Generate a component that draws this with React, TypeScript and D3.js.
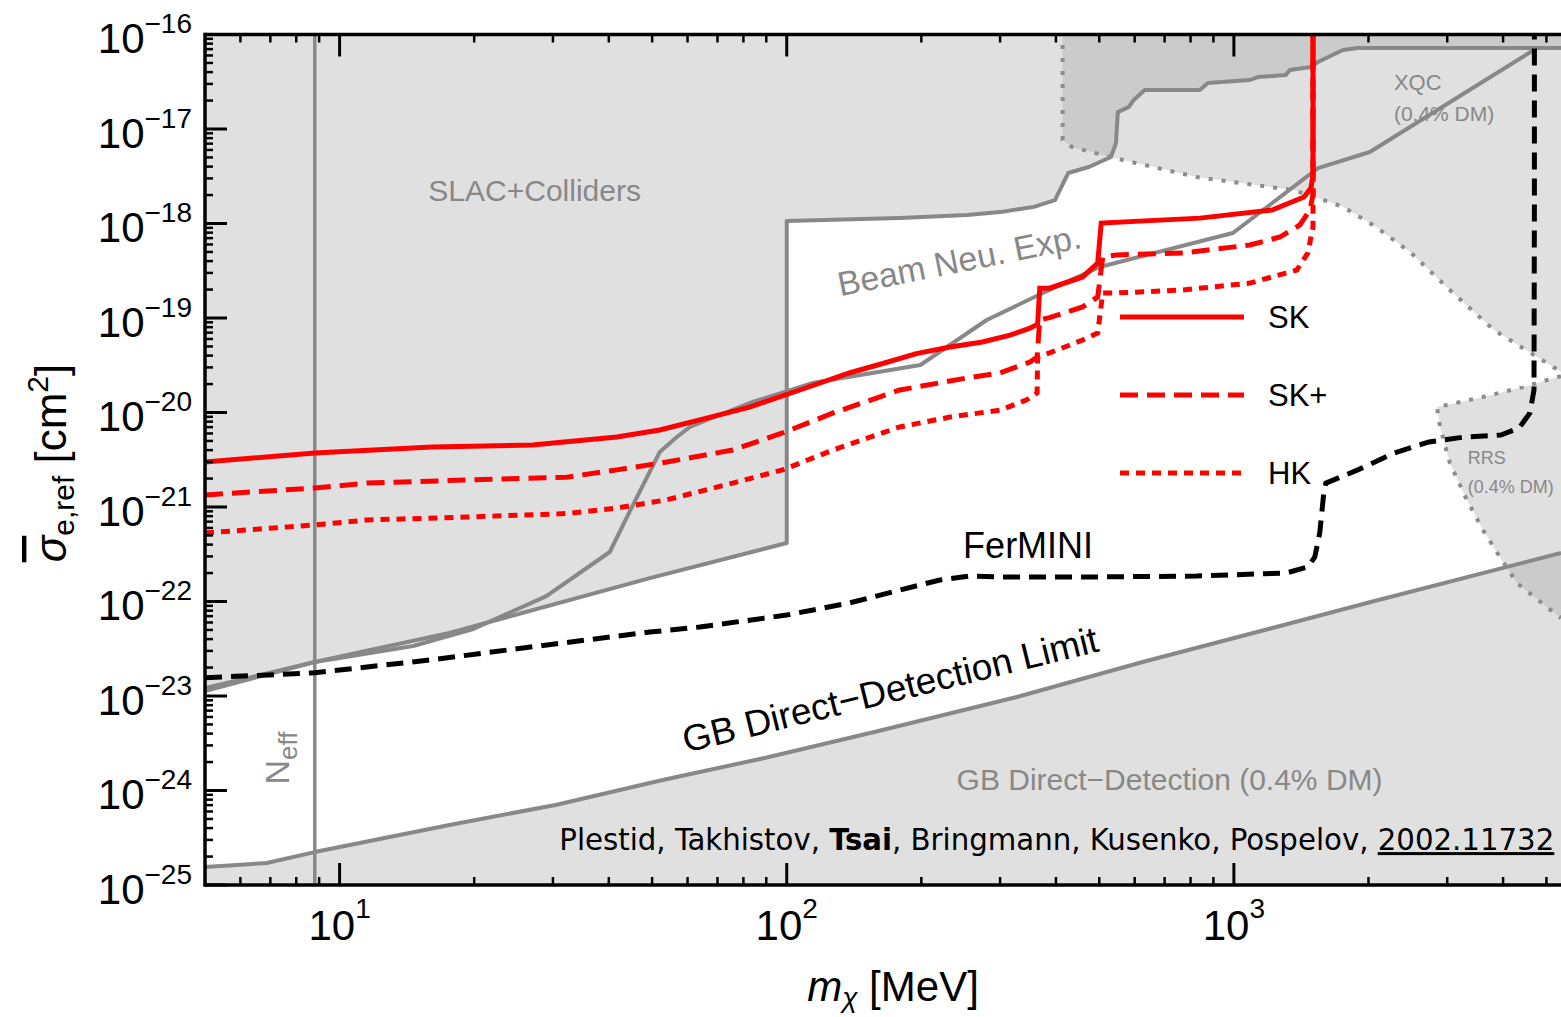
import { useEffect, useRef } from 'react';
import * as d3 from 'd3';

// mass m_chi [MeV], cross section sigma_e,ref [cm^2]
const skLine = [
  [5, 3.0e-21], [8.8, 3.72e-21], [16.1, 4.32e-21], [27, 4.53e-21], [41.7, 5.51e-21], [52, 6.53e-21],
  [63.9, 8.34e-21], [82.6, 1.14e-20], [107, 1.73e-20], [138, 2.62e-20], [164, 3.3e-20], [195, 4.2e-20],
  [232, 4.93e-20], [274, 5.57e-20], [316, 6.6e-20], [350, 7.8e-20], [364, 8.6e-20], [368, 2.07e-19],
  [387, 2.07e-19], [459, 2.72e-19], [496, 3.82e-19], [505, 1.01e-18], [839, 1.14e-18], [1217, 1.39e-18],
  [1435, 1.91e-18], [1487, 2.38e-18], [1503, 3.26e-18], [1503, 2e-16],
];
const skPlusLine = [
  [5, 1.34e-21], [8.8, 1.59e-21], [11.5, 1.79e-21], [19.2, 1.93e-21], [32.2, 2.07e-21], [41.7, 2.47e-21],
  [53.9, 2.99e-21], [75.7, 4.01e-21], [97.9, 6.07e-21], [127, 9.89e-21], [179, 1.73e-20], [253, 2.32e-20],
  [300, 2.62e-20], [350, 3.42e-20], [363, 3.86e-20], [368, 9.53e-20], [387, 1.01e-19], [459, 1.31e-19],
  [496, 1.67e-19], [509, 4.43e-19], [547, 4.65e-19], [769, 4.88e-19], [1086, 5.92e-19], [1268, 7.19e-19],
  [1405, 9.64e-19], [1479, 1.39e-18], [1503, 2.0e-18], [1503, 2e-16],
];
const hkLine = [
  [5, 5.31e-22], [8.8, 6.46e-22], [11.5, 7.28e-22], [19.2, 7.83e-22], [32.2, 8.53e-22], [41.7, 9.75e-22],
  [53.9, 1.19e-21], [75.7, 1.79e-21], [97.9, 2.47e-21], [127, 4.01e-21], [179, 7.03e-21], [232, 8.95e-21],
  [300, 1.06e-20], [344, 1.36e-20], [363, 1.61e-20], [364, 3.86e-20], [387, 4.27e-20], [459, 5.85e-20],
  [496, 6.93e-20], [509, 1.84e-19], [547, 1.84e-19], [769, 1.98e-19], [1086, 2.34e-19], [1307, 2.99e-19],
  [1383, 3.22e-19], [1464, 4.88e-19], [1503, 9.18e-19], [1503, 2e-16],
];
const ferminiLine = [
  [5, 1.56e-23], [8.8, 1.76e-23], [16.1, 2.42e-23], [27, 3.32e-23], [49.4, 4.75e-23], [63.9, 5.37e-23],
  [100, 7.19e-23], [138, 9.64e-23], [179, 1.32e-22], [220, 1.69e-22], [256, 1.86e-22], [300, 1.82e-22],
  [501, 1.82e-22], [826, 1.86e-22], [1307, 2.0e-22], [1464, 2.32e-22], [1517, 2.96e-22], [1556, 5.31e-22],
  [1589, 1.41e-21], [1606, 1.79e-21], [1893, 2.47e-21], [2279, 3.72e-21], [2731, 4.88e-21], [3286, 5.51e-21],
  [3955, 5.78e-21], [4345, 6.85e-21], [4592, 9.89e-21], [4690, 1.73e-20], [4700, 1.55e-18], [4700, 2e-16],
];
const beamLine = [
  [5, 1.13e-23], [8.8, 2.29e-23], [14.6, 3.38e-23], [19.9, 5.12e-23], [29.0, 1.14e-22], [40.2, 3.34e-22],
  [45.2, 1.03e-21], [52.0, 3.82e-21], [56.8, 5.51e-21], [60.7, 7.03e-21], [82.6, 1.26e-20], [114, 2.05e-20],
  [199, 3.18e-20], [280, 9.53e-20], [374, 1.84e-19], [501, 3.47e-19], [995, 7.93e-19], [1542, 3.86e-18],
  [2014, 5.71e-18], [4764, 7.19e-17],
];
const slacBoundary = [
  [5, 1.21e-23], [8.8, 2.29e-23], [17.6, 4.65e-23], [49.4, 1.77e-22], [100, 4.16e-22], [100, 1.06e-18],
  [179, 1.14e-18], [253, 1.23e-18], [300, 1.32e-18], [357, 1.5e-18], [398, 1.77e-18], [426, 3.42e-18],
  [474, 3.96e-18], [531, 5.06e-18], [545, 7.11e-18], [550, 1.51e-17], [582, 1.71e-17], [597, 2.03e-17],
  [632, 2.59e-17], [839, 2.59e-17], [875, 3.07e-17], [1086, 3.3e-17], [1132, 3.55e-17], [1307, 3.72e-17],
  [1334, 4.21e-17], [1487, 4.53e-17], [1542, 5.12e-17], [1754, 6.85e-17], [1893, 7.19e-17], [5390, 7.19e-17],
];
const xqcBoundary = [
  [414, 2e-16], [414, 7.66e-18], [434, 6.46e-18], [540, 4.93e-18], [826, 3.1e-18], [1355, 2.26e-18],
  [1517, 1.91e-18], [1754, 1.5e-18], [2080, 9.18e-19], [2490, 4.88e-19], [3041, 1.98e-19], [3816, 7.46e-20],
  [5390, 2.69e-20],
];
const rrsBoundary = [
  [5390, 2.43e-20], [4436, 1.86e-20], [3606, 1.46e-20], [2846, 1.14e-20], [2891, 7.03e-21], [3041, 2.92e-21],
  [3319, 1.19e-21], [3606, 5.71e-22], [3935, 2.96e-22], [4295, 1.57e-22], [5176, 7.74e-23], [5390, 6.68e-23],
];
const gbLimit = [
  [5, 1.55e-25], [6.87, 1.71e-25], [8.8, 2.23e-25], [17.6, 4.32e-25], [30.4, 7.03e-25], [52.8, 1.29e-24],
  [91.2, 2.26e-24], [157, 4.16e-24], [327, 9.75e-24], [625, 2.29e-23], [1172, 4.99e-23], [2023, 9.89e-23],
  [5390, 3.26e-22],
];
const neffMass = 8.8;

const xDomain = [5, 5390];
const yDomain = [1e-25, 1e-16];
const yTickExps = [-16, -17, -18, -19, -20, -21, -22, -23, -24, -25];
const xTickExps = [1, 2, 3];

const legendItems = [
  { label: 'SK', dash: null },
  { label: 'SK+', dash: '18,9' },
  { label: 'HK', dash: '9,7' },
];

const LIGHT = '#e0e0e0';
const DARK = '#cbcbcb';
const GRAY = '#888888';
const FONT = '"Liberation Sans", Arial, Helvetica, sans-serif';

const Chart = () => {
  const svgRef = useRef(null);

  useEffect(() => {
    const svg = d3.select(svgRef.current);
    svg.selectAll('*').remove();

    const W = 1561, H = 1017;
    const left = 205, right = 1561, top = 34.5, bottom = 885;
    svg.attr('width', W).attr('height', H);

    const x = d3.scaleLog().domain(xDomain).range([left, right]);
    const y = d3.scaleLog().domain(yDomain).range([bottom, top]);
    const line = d3.line().x(d => x(d[0])).y(d => y(d[1]));

    const defs = svg.append('defs');
    defs.append('clipPath').attr('id', 'plotClip')
      .append('rect').attr('x', left).attr('y', top).attr('width', right - left).attr('height', bottom - top);

    const slacPoly = [[5, 2e-16], ...slacBoundary, [5390, 2e-16]];
    const xqcPoly = [...xqcBoundary, [5390, 2e-16]];
    const gbPoly = [...gbLimit, [5390, 1e-26], [5, 1e-26]];
    const rrsPoly = [...rrsBoundary];

    defs.append('clipPath').attr('id', 'slacClip').append('path').attr('d', line(slacPoly) + 'Z');
    defs.append('clipPath').attr('id', 'gbClip').append('path').attr('d', line(gbPoly) + 'Z');

    const plot = svg.append('g').attr('clip-path', 'url(#plotClip)');

    // shaded regions
    plot.append('path').attr('d', line(slacPoly) + 'Z').attr('fill', LIGHT);
    plot.append('path').attr('d', line(xqcPoly) + 'Z').attr('fill', LIGHT);
    plot.append('path').attr('d', line(gbPoly) + 'Z').attr('fill', LIGHT);
    plot.append('path').attr('d', line(rrsPoly) + 'Z').attr('fill', LIGHT);
    plot.append('g').attr('clip-path', 'url(#slacClip)')
      .append('path').attr('d', line(xqcPoly) + 'Z').attr('fill', DARK);
    plot.append('g').attr('clip-path', 'url(#gbClip)')
      .append('path').attr('d', line(rrsPoly) + 'Z').attr('fill', DARK);

    // gray boundaries
    const grayLine = (data, dash) => plot.append('path').datum(data)
      .attr('d', line).attr('fill', 'none').attr('stroke', dash ? '#8c8c8c' : GRAY)
      .attr('stroke-width', dash ? 4 : 4).attr('stroke-dasharray', dash || null)
      .attr('stroke-linejoin', 'round');
    grayLine(slacBoundary);
    grayLine(beamLine);
    grayLine(gbLimit);
    grayLine(xqcBoundary, '4,9');
    grayLine(rrsBoundary, '4,9');
    plot.append('line')
      .attr('x1', x(neffMass)).attr('x2', x(neffMass)).attr('y1', top).attr('y2', bottom)
      .attr('stroke', GRAY).attr('stroke-width', 3.5);

    // annotations
    const note = (txt, m, s, size, opts = {}) => plot.append('text')
      .attr('transform', `translate(${x(m)},${y(s)}) rotate(${opts.rot || 0})`)
      .attr('text-anchor', opts.anchor || 'middle')
      .attr('font-family', FONT).attr('font-size', size)
      .attr('fill', opts.color || GRAY).text(txt);
    note('SLAC+Colliders', 27.3, 1.73e-18, 30);
    note('Beam Neu. Exp.', 246, 3.07e-19, 34, { rot: -11.3 });
    note('GB Direct\u2212Detection (0.4% DM)', 718, 1.01e-24, 30);
    note('XQC', 2280, 2.59e-17, 22, { anchor: 'start' });
    note('(0.4% DM)', 2280, 1.22e-17, 21, { anchor: 'start' });
    note('RRS', 3334, 2.85e-21, 18, { anchor: 'start' });
    note('(0.4% DM)', 3334, 1.41e-21, 18, { anchor: 'start' });
    note('FerMINI', 248, 2.88e-22, 36, { anchor: 'start', color: '#000' });
    note('GB Direct\u2212Detection Limit', 173, 8.65e-24, 37, { rot: -13.8, color: '#000' });

    const neff = plot.append('text')
      .attr('transform', `translate(${x(7.69)},${y(2.21e-24)}) rotate(-90)`)
      .attr('text-anchor', 'middle').attr('font-family', FONT).attr('font-size', 34).attr('fill', GRAY);
    neff.append('tspan').text('N');
    neff.append('tspan').attr('font-size', 26).attr('dy', 8).text('eff');

    // citation
    const cite = plot.append('text')
      .attr('x', x(31)).attr('y', y(2.34e-25))
      .attr('font-family', '"Liberation Sans Narrow", "DejaVu Sans Condensed", sans-serif')
      .attr('font-size', 30).attr('fill', '#000')
      .attr('textLength', 995).attr('lengthAdjust', 'spacingAndGlyphs');
    cite.append('tspan').text('Plestid, Takhistov, ');
    cite.append('tspan').attr('font-weight', 'bold').text('Tsai');
    cite.append('tspan').text(', Bringmann, Kusenko, Pospelov, ');
    cite.append('tspan').attr('text-decoration', 'underline').text('2002.11732');

    // curves
    plot.append('path').datum(ferminiLine).attr('d', line).attr('fill', 'none')
      .attr('stroke', '#000').attr('stroke-width', 5).attr('stroke-dasharray', '17,9');
    [[skLine, null], [skPlusLine, '18,9'], [hkLine, '9,7']].forEach(([data, dash]) => {
      plot.append('path').datum(data).attr('d', line).attr('fill', 'none')
        .attr('stroke', '#ff0000').attr('stroke-width', 5).attr('stroke-dasharray', dash);
    });

    // legend
    legendItems.forEach((item, i) => {
      const ly = 317 + i * 78;
      svg.append('line').attr('x1', 1120).attr('x2', 1244).attr('y1', ly).attr('y2', ly)
        .attr('stroke', '#ff0000').attr('stroke-width', 5).attr('stroke-dasharray', item.dash);
      svg.append('text').attr('x', 1268).attr('y', ly + 11).attr('font-family', FONT)
        .attr('font-size', 31).attr('fill', '#000').text(item.label);
    });

    // frame and ticks
    const frame = svg.append('g').attr('stroke', '#000');
    frame.append('line').attr('x1', left).attr('x2', right).attr('y1', top).attr('y2', top).attr('stroke-width', 3.5);
    frame.append('line').attr('x1', left).attr('x2', right).attr('y1', bottom).attr('y2', bottom).attr('stroke-width', 3.5);
    frame.append('line').attr('x1', left).attr('x2', left).attr('y1', top - 1.7).attr('y2', bottom + 1.7).attr('stroke-width', 3.5);

    const yMinor = [];
    for (let e = -25; e < -16; e++) for (let k = 2; k <= 9; k++) yMinor.push(k * Math.pow(10, e));
    yMinor.forEach(v => frame.append('line').attr('x1', left).attr('x2', left + 8)
      .attr('y1', y(v)).attr('y2', y(v)).attr('stroke-width', 2.5));
    yTickExps.forEach(e => frame.append('line').attr('x1', left).attr('x2', left + 22)
      .attr('y1', y(Math.pow(10, e))).attr('y2', y(Math.pow(10, e))).attr('stroke-width', 3));

    const xMinor = [];
    for (let e = 0; e <= 3; e++) for (let k = 2; k <= 9; k++) {
      const v = k * Math.pow(10, e);
      if (v > xDomain[0] && v < xDomain[1]) xMinor.push(v);
    }
    xMinor.forEach(v => {
      frame.append('line').attr('x1', x(v)).attr('x2', x(v)).attr('y1', bottom).attr('y2', bottom - 8).attr('stroke-width', 2.5);
      frame.append('line').attr('x1', x(v)).attr('x2', x(v)).attr('y1', top).attr('y2', top + 8).attr('stroke-width', 2.5);
    });
    xTickExps.forEach(e => {
      const v = Math.pow(10, e);
      frame.append('line').attr('x1', x(v)).attr('x2', x(v)).attr('y1', bottom).attr('y2', bottom - 22).attr('stroke-width', 3);
      frame.append('line').attr('x1', x(v)).attr('x2', x(v)).attr('y1', top).attr('y2', top + 22).attr('stroke-width', 3);
    });

    // tick labels
    yTickExps.forEach(e => {
      const t = svg.append('text').attr('x', 192).attr('y', y(Math.pow(10, e)) + 18.5)
        .attr('text-anchor', 'end').attr('font-family', FONT).attr('font-size', 42).attr('fill', '#000');
      t.append('tspan').text('10');
      t.append('tspan').attr('font-size', 28).attr('dy', -20).text('\u2212' + Math.abs(e));
    });
    xTickExps.forEach(e => {
      const t = svg.append('text').attr('x', x(Math.pow(10, e))).attr('y', 940)
        .attr('text-anchor', 'middle').attr('font-family', FONT).attr('font-size', 42).attr('fill', '#000');
      t.append('tspan').text('10');
      t.append('tspan').attr('font-size', 28).attr('dy', -22).text(String(e));
    });

    // axis titles
    const xt = svg.append('text').attr('x', 893).attr('y', 1001).attr('text-anchor', 'middle')
      .attr('font-family', FONT).attr('font-size', 42).attr('fill', '#000');
    xt.append('tspan').attr('font-style', 'italic').text('m');
    xt.append('tspan').attr('font-style', 'italic').attr('font-size', 28).attr('dy', 6).text('\u03c7');
    xt.append('tspan').attr('dy', -6).text(' [MeV]');

    const yt = svg.append('text').attr('transform', 'translate(66,463) rotate(-90)')
      .attr('text-anchor', 'middle').attr('font-family', FONT).attr('font-size', 44).attr('fill', '#000');
    yt.append('tspan').attr('font-style', 'italic').attr('text-decoration', 'overline').text('\u03c3');
    yt.append('tspan').attr('font-size', 30).attr('dy', 8).text('e,ref');
    yt.append('tspan').attr('dy', -8).text(' [cm');
    yt.append('tspan').attr('font-size', 30).attr('dy', -18).text('2');
    yt.append('tspan').attr('dy', 18).text(']');
  }, []);

  return (<svg ref={svgRef} style={{ position: 'absolute', left: 0, top: 0, background: '#fff' }}></svg>);
};

export default function App() {
  return <Chart />;
}
